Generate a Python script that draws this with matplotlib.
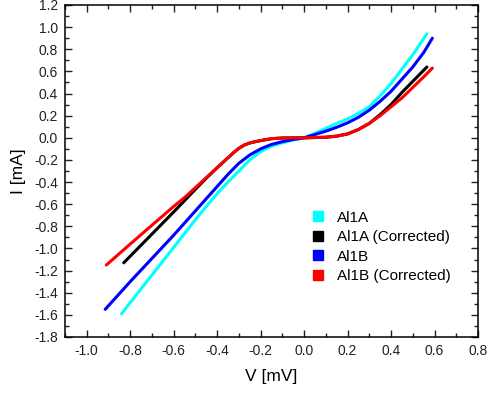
import matplotlib
matplotlib.use("Agg")
import matplotlib.pyplot as plt
from matplotlib.ticker import MultipleLocator, FormatStrFormatter

plt.rcParams['font.family'] = ['Liberation Sans', 'DejaVu Sans']

# Al1A (raw)
v_a = [-0.84, -0.70, -0.60, -0.50, -0.45, -0.40, -0.35, -0.30, -0.25, -0.20, -0.15, -0.10, -0.05,
       0.00, 0.05, 0.10, 0.15, 0.20, 0.25, 0.30, 0.35, 0.40, 0.45, 0.50, 0.565]
i_a = [-1.59, -1.24, -0.99, -0.74, -0.62, -0.505, -0.40, -0.30, -0.20, -0.125, -0.075, -0.045, -0.02,
       0.00, 0.04, 0.085, 0.13, 0.17, 0.22, 0.28, 0.38, 0.49, 0.62, 0.75, 0.94]

# Al1A (corrected)
v_ac = [-0.83, -0.75, -0.70, -0.60, -0.50, -0.45, -0.40, -0.35, -0.325, -0.30, -0.275, -0.25, -0.225,
        -0.20, -0.15, -0.10, 0.00, 0.10, 0.15, 0.20, 0.25, 0.30, 0.35, 0.40, 0.45, 0.50, 0.565]
i_ac = [-1.13, -0.97, -0.87, -0.67, -0.465, -0.365, -0.27, -0.18, -0.135, -0.095, -0.065, -0.047, -0.035,
        -0.025, -0.008, -0.002, 0.00, 0.005, 0.015, 0.035, 0.075, 0.13, 0.21, 0.30, 0.41, 0.51, 0.64]

# Al1B (raw)
v_b = [-0.915, -0.80, -0.70, -0.60, -0.50, -0.45, -0.40, -0.35, -0.30, -0.25, -0.20, -0.15, -0.10, -0.05,
       0.00, 0.05, 0.10, 0.15, 0.20, 0.25, 0.30, 0.35, 0.40, 0.45, 0.50, 0.55, 0.59]
i_b = [-1.55, -1.30, -1.09, -0.88, -0.66, -0.55, -0.44, -0.33, -0.23, -0.155, -0.10, -0.06, -0.035, -0.015,
       0.00, 0.03, 0.06, 0.095, 0.135, 0.185, 0.25, 0.33, 0.42, 0.53, 0.64, 0.77, 0.90]

# Al1B (corrected)
v_bc = [-0.91, -0.80, -0.70, -0.60, -0.55, -0.50, -0.45, -0.40, -0.35, -0.325, -0.30, -0.275, -0.25, -0.225,
        -0.20, -0.15, -0.10, 0.00, 0.10, 0.15, 0.20, 0.25, 0.30, 0.35, 0.40, 0.45, 0.50, 0.55, 0.59]
i_bc = [-1.15, -0.96, -0.79, -0.62, -0.54, -0.45, -0.36, -0.27, -0.18, -0.135, -0.095, -0.065, -0.047, -0.035,
        -0.025, -0.008, -0.002, 0.00, 0.005, 0.015, 0.035, 0.075, 0.13, 0.20, 0.28, 0.36, 0.455, 0.55, 0.63]

series = [
    (v_a, i_a, "#00ffff", "Al1A"),
    (v_ac, i_ac, "#000000", "Al1A (Corrected)"),
    (v_b, i_b, "#0000ff", "Al1B"),
    (v_bc, i_bc, "#ff0000", "Al1B (Corrected)"),
]

fig = plt.figure(figsize=(4.88, 3.94), dpi=100)
ax = fig.add_axes([65 / 488, 1 - 337 / 394, 413 / 488, 332 / 394])

for v, cur, col, lab in series:
    ax.plot(v, cur, color=col, lw=2.2, solid_capstyle="round", solid_joinstyle="round")

# legend with square markers only
handles = [plt.Line2D([], [], ls="none", marker="s", ms=7, color=col, label=lab)
           for _, _, col, lab in series]
ax.legend(handles=handles, loc="center left", bbox_to_anchor=(0.598, 0.271),
          frameon=False, fontsize=11, handlelength=0.8, handletextpad=0.85,
          labelspacing=0.36, borderpad=0, borderaxespad=0)

ax.set_xlim(-1.1, 0.8)
ax.set_ylim(-1.8, 1.2)
ax.xaxis.set_major_locator(MultipleLocator(0.2))
ax.xaxis.set_minor_locator(MultipleLocator(0.1))
ax.yaxis.set_major_locator(MultipleLocator(0.2))
ax.yaxis.set_minor_locator(MultipleLocator(0.1))
ax.xaxis.set_major_formatter(FormatStrFormatter("%.1f"))
ax.yaxis.set_major_formatter(FormatStrFormatter("%.1f"))
ax.tick_params(which="both", direction="in", top=True, right=True, width=1.0,
               labelsize=10, colors="#222222")
ax.tick_params(which="major", length=5, pad=5)
ax.tick_params(which="minor", length=3)
for s in ax.spines.values():
    s.set_linewidth(1.1)

ax.set_xlabel("V [mV]", fontsize=12.5, labelpad=8)
ax.set_ylabel("I [mA]", fontsize=12.5, labelpad=6)

fig.savefig("out.png", dpi=100)
